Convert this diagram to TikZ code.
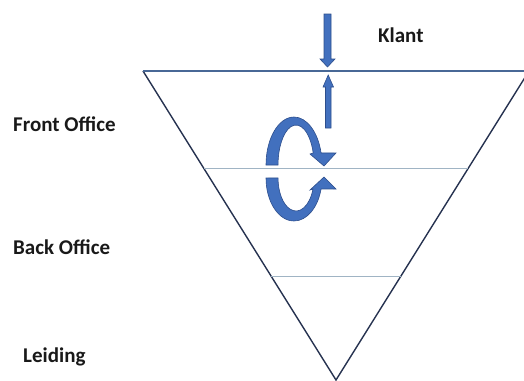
\documentclass[tikz,border=0pt]{standalone}
\usepackage{fontspec}
\setmainfont{Carlito}
\usetikzlibrary{calc}
\definecolor{arrfill}{RGB}{66,112,190}
\definecolor{arrdraw}{RGB}{45,78,140}
\definecolor{edgecol}{RGB}{38,50,80}
\definecolor{topcol}{RGB}{72,104,150}
\definecolor{innercol}{RGB}{160,180,196}
\tikzset{
  lbl/.style={font=\bfseries\fontsize{21}{24}\selectfont, anchor=base west, inner sep=0pt, text=black!90},
  blockarrow/.style={fill=arrfill, draw=arrdraw, line width=0.6pt, line join=miter},
  side/.style={draw=edgecol, line width=1.4pt},
  topedge/.style={draw=topcol, line width=2pt},
  inner/.style={draw=innercol, line width=0.9pt}
}
\begin{document}
\begin{tikzpicture}[x=1pt,y=-1pt]
\useasboundingbox (0,0) rectangle (524,380);
\begin{scope}
\clip (0,0) rectangle (524,380);
\coordinate (tl) at (143,71);
\coordinate (tr) at (529,71);
\coordinate (apex) at (336,380);
\draw[side] (tl) -- (apex) -- (tr);
\draw[topedge] (tl) -- (tr);
\coordinate (ml) at ($(apex)!0.686!(tl)$);
\coordinate (mr) at ($(apex)!0.686!(tr)$);
\coordinate (bl) at ($(apex)!0.3366!(tl)$);
\coordinate (br) at ($(apex)!0.3366!(tr)$);
\draw[inner] (ml) -- (mr);
\draw[inner] (bl) -- (br);
\end{scope}
% straight arrows
\path[blockarrow] (324,14) -- (331,14) -- (331,59) -- (335,59) -- (327.5,67) -- (320,59) -- (324,59) -- cycle;
\path[blockarrow] (325.5,128) -- (331,128) -- (331,87) -- (333.5,87) -- (328.2,75) -- (323,87) -- (325.5,87) -- cycle;
% curved arrows
\path[blockarrow] (266,165) arc[start angle=180, end angle=345.5, x radius=28, y radius=48]
  -- (336,153) -- (324,166) -- (310,154) -- (313.2,153)
  arc[start angle=342.5, end angle=180, x radius=18, y radius=40] -- cycle;
\path[blockarrow] (266,178) arc[start angle=180, end angle=14.8, x radius=28, y radius=43]
  -- (336,189) -- (324,177) -- (310,190) -- (313,189)
  arc[start angle=19.5, end angle=180, x radius=18, y radius=33] -- cycle;
% labels
\node[lbl] (klant) at (378,42) {Klant};
\node[lbl] (front) at (13,131) {Front Office};
\node[lbl] (back) at (13,254) {Back Office};
\node[lbl] (leiding) at (23,362) {Leiding};
\end{tikzpicture}
\end{document}
